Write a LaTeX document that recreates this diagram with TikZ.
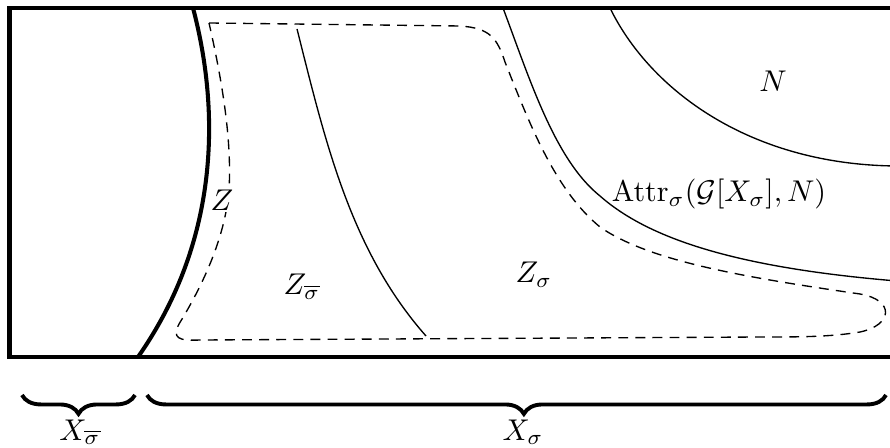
\documentclass[tikz,border=0pt]{standalone}
\usetikzlibrary{decorations.pathreplacing}
\tikzset{
  border/.style={line width=1.35pt, line cap=butt, line join=miter},
  region/.style={line width=0.45pt},
  zset/.style={line width=0.45pt, dash pattern=on 3.3pt off 2.4pt},
  lbl/.style={inner sep=0pt, anchor=base, font=\fontsize{10}{12}\selectfont},
  bracestyle/.style={line width=1.3pt, decorate, decoration={brace, mirror, amplitude=6.3pt}}
}
\begin{document}
\begin{tikzpicture}[x=0.33333pt,y=-0.33333pt]
\useasboundingbox (0,0) rectangle (890,448);
\clip (0,0) rectangle (890,448);
% outer frame (open at the right)
\draw[border] (897,8) -- (9.5,8) -- (9.5,357) -- (897,357);
% thick separating curve
\draw[border] (193,8) .. controls (220,110) and (220,240) .. (138,357);
% region boundaries
\draw[region] (297,29) .. controls (325,140) and (350,250) .. (426,336);
\draw[region] (503,8) .. controls (530,80) and (555,160) .. (600,196)
              .. controls (650,240) and (740,268) .. (897,281);
\draw[region] (610,8) .. controls (650,90) and (750,165) .. (897,166);
% dashed set Z
\draw[zset] (209,23) -- (460,26) .. controls (490,28) and (497,38) .. (505,62)
  .. controls (530,125) and (555,190) .. (600,227)
  .. controls (650,262) and (750,278) .. (860,294)
  .. controls (895,300) and (893,325) .. (860,332)
  .. controls (830,337) and (800,337) .. (760,337)
  -- (200,340) .. controls (178,341) and (172,338) .. (179,324)
  .. controls (200,290) and (225,240) .. (229,190)
  .. controls (232,140) and (222,80) .. (209,23) -- cycle;
% labels
\node[lbl] (n) at (773,92) {$N$};
\node[lbl] (attr) at (719,202) {$\mathrm{Attr}_\sigma(\mathcal{G}[X_\sigma],N)$};
\node[lbl, fill=white, inner sep=0.5pt] (z) at (222,211) {$Z$};
\node[lbl] (zsb) at (302,295) {$Z_{\overline{\sigma}}$};
\node[lbl] (zs) at (534,283) {$Z_\sigma$};
% braces
\coordinate (b1l) at (22,395);
\coordinate (b1r) at (135,395);
\coordinate (b2l) at (147,395);
\coordinate (b2r) at (886,395);
\draw[bracestyle] (b1l) -- (b1r);
\draw[bracestyle, decoration={aspect=0.51}] (b2l) -- (b2r);
\node[lbl] (xsb) at (80,440) {$X_{\overline{\sigma}}$};
\node[lbl] (xs) at (523,440) {$X_\sigma$};
\end{tikzpicture}
\end{document}
